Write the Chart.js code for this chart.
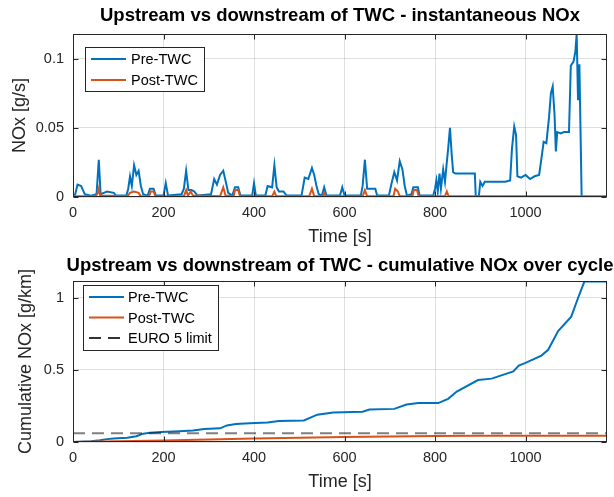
<!DOCTYPE html>
<html>
<head>
<meta charset="utf-8">
<script src="https://cdn.jsdelivr.net/npm/chart.js@4.4.1/dist/chart.umd.min.js"></script>
<style>
  html, body { margin: 0; padding: 0; background: #fff; }
  #wrap { position: relative; width: 614px; height: 497px; overflow: hidden; }
  canvas { position: absolute; left: 0; }
  #instChart { top: 0; }
  #cumChart { top: 247px; }
</style>
</head>
<body>
<div id="wrap">
  <canvas id="instChart" width="614" height="250"></canvas>
  <canvas id="cumChart" width="614" height="250"></canvas>
</div>
<script>
// values
const timeTicks = [0, 200, 400, 600, 800, 1000];
const instTicks = [0, 0.05, 0.1];
const cumTicks = [0, 0.5, 1];
const euro5Limit = 0.06;

// instantaneous NOx [g/s], upstream of the TWC
const preInstTime = [0, 5, 10, 18, 26, 40, 52, 57, 61, 68, 75, 90, 95, 118, 122, 126, 130, 135, 140, 145, 150, 155, 165, 170, 178, 183,
  200, 205, 210, 240, 245, 250, 255, 262, 268, 275, 305, 312, 318, 325, 332, 337, 343, 352, 358, 365, 370, 396, 400, 404,
  425, 430, 440, 445, 450, 455, 465, 472, 505, 512, 520, 528, 533, 538, 543, 550, 555, 560, 590, 595, 600, 636, 640, 645,
  650, 660, 668, 672, 698, 704, 710, 716, 722, 728, 733, 738, 748, 752, 762, 766, 796, 800, 803, 806, 810, 813, 818, 822,
  826, 829, 833, 837, 840, 845, 870, 888, 890, 897, 900, 905, 910, 930, 955, 966, 970, 975, 979, 982, 990, 1000, 1010,
  1020, 1030, 1036, 1040, 1046, 1052, 1056, 1060, 1064, 1067, 1070, 1078, 1085, 1096, 1100, 1106, 1110, 1113, 1116, 1119,
  1124, 1180];
const preInstNOx = [0.001, 0.002, 0.009, 0.008, 0.002, 0.001, 0.002, 0.027, 0.002, 0.003, 0.004, 0.003, 0.001, 0.001, 0.006, 0.015, 0.008, 0.023, 0.016, 0.019, 0.008, 0.002, 0.001, 0.006, 0.006, 0.001,
  0.001, 0.01, 0.001, 0.002, 0.006, 0.019, 0.005, 0.005, 0.004, 0.001, 0.002, 0.013, 0.009, 0.016, 0.019, 0.012, 0.003, 0.001, 0.007, 0.007, 0.001, 0.001, 0.01, 0.001,
  0.001, 0.008, 0.007, 0.023, 0.007, 0.004, 0.004, 0.001, 0.001, 0.014, 0.013, 0.021, 0.016, 0.008, 0.002, 0.001, 0.007, 0.001, 0.001, 0.007, 0.001, 0.001, 0.008, 0.027,
  0.006, 0.006, 0.006, 0.001, 0.001, 0.01, 0.018, 0.012, 0.026, 0.02, 0.008, 0.001, 0.002, 0.007, 0.007, 0.001, 0.001, 0.006, 0.012, 0.004, 0.017, 0.006, 0.02, 0.011,
  0.025, 0.035, 0.05, 0.03, 0.018, 0.017, 0.017, 0.017, 0, 0.001, 0.011, 0.008, 0.011, 0.011, 0.011, 0.012, 0.035, 0.051, 0.045, 0.015, 0.014, 0.016, 0.013,
  0.015, 0.016, 0.03, 0.04, 0.039, 0.058, 0.075, 0.08, 0.06, 0.033, 0.047, 0.046, 0.047, 0.047, 0.095, 0.098, 0.105, 0.118, 0.07, 0.096,
  0, 0];

// instantaneous NOx [g/s], downstream of the TWC
const postInstTime = [0, 50, 55, 57, 60, 120, 126, 135, 145, 150, 168, 172, 178, 182, 245, 250, 254, 260, 265, 325, 332, 337, 355, 358, 365, 369,
  440, 445, 449, 522, 528, 533, 552, 555, 559, 640, 645, 650, 708, 712, 718, 722, 750, 753, 760, 764, 822, 826, 830, 1180];
const postInstNOx = [0.0005, 0.0005, 0.003, 0.006, 0.001, 0.0005, 0.003, 0.004, 0.003, 0.0005, 0.0005, 0.004, 0.004, 0.0005, 0.0005, 0.005, 0.001, 0.004, 0.001, 0.0005, 0.007, 0.001, 0.0005, 0.005, 0.005, 0.0005,
  0.0005, 0.004, 0.0005, 0.0005, 0.006, 0.0005, 0.0005, 0.003, 0.0005, 0.0005, 0.005, 0.0005, 0.0005, 0.006, 0.004, 0.0005, 0.0005, 0.005, 0.005, 0.0005, 0.0005, 0.004, 0.0005, 0.0005];

// cumulative NOx [g/km]
const preCumTime = [0, 40, 60, 75, 90, 120, 140, 155, 170, 195, 235, 265, 290, 325, 340, 360, 390, 430, 455, 510, 540, 575, 640, 655,
  710, 737, 763, 807, 829, 848, 895, 925, 973, 985, 1000, 1035, 1050, 1072, 1101, 1116, 1130, 1180];
const preCumNOx = [0, 0.005, 0.012, 0.02, 0.025, 0.03, 0.04, 0.058, 0.065, 0.07, 0.075, 0.08, 0.09, 0.095, 0.115, 0.125, 0.13, 0.135, 0.145, 0.15, 0.19, 0.205, 0.21, 0.225,
  0.23, 0.26, 0.27, 0.27, 0.3, 0.35, 0.43, 0.44, 0.49, 0.53, 0.55, 0.6, 0.64, 0.77, 0.87, 1.0, 1.114, 1.114];
const postCumTime = [0, 100, 200, 300, 400, 500, 600, 700, 800, 900, 1180];
const postCumNOx = [0, 0.005, 0.01, 0.017, 0.024, 0.03, 0.035, 0.039, 0.042, 0.043, 0.044];

const BLUE = '#0072BD';
const ORANGE = '#D95319';
const AXIS = '#262626';
const FONT = '"Liberation Sans", Arial, Helvetica, sans-serif';

function toPoints(xs, ys) {
    return xs.map((x, i) => ({ x: x, y: ys[i] }));
}

// draws the MATLAB style box, inward ticks, title and legend
const matlabAxes = {
    id: 'matlabAxes',
    afterDraw(chart, args, opts) {
        const { ctx, chartArea: a, scales } = chart;
        const left = Math.round(a.left) + 0.5, top = Math.round(a.top) + 0.5;
        const right = Math.round(a.right) - 0.5, bottom = Math.round(a.bottom) - 0.5;
        ctx.save();
        ctx.strokeStyle = AXIS;
        ctx.lineWidth = 1;
        ctx.beginPath();
        scales.x.ticks.forEach(t => {
            const px = Math.round(scales.x.getPixelForValue(t.value)) + 0.5;
            ctx.moveTo(px, bottom); ctx.lineTo(px, bottom - 5);
            ctx.moveTo(px, top); ctx.lineTo(px, top + 5);
        });
        scales.y.ticks.forEach(t => {
            const py = Math.round(scales.y.getPixelForValue(t.value)) + 0.5;
            ctx.moveTo(left, py); ctx.lineTo(left + 5, py);
            ctx.moveTo(right, py); ctx.lineTo(right - 5, py);
        });
        ctx.stroke();
        ctx.strokeRect(left, top, right - left, bottom - top);

        // title
        ctx.fillStyle = '#000';
        ctx.font = 'bold 18.5px ' + FONT;
        ctx.textAlign = 'center';
        ctx.textBaseline = 'middle';
        ctx.fillText(opts.title, (a.left + a.right) / 2, a.top - opts.titleGap);

        // legend
        const lg = opts.legend;
        const sets = chart.data.datasets;
        ctx.fillStyle = '#fff';
        ctx.fillRect(lg.x, lg.y, lg.w, lg.h);
        ctx.strokeStyle = AXIS;
        ctx.strokeRect(lg.x + 0.5, lg.y + 0.5, lg.w, lg.h);
        ctx.font = '14.5px ' + FONT;
        ctx.textAlign = 'left';
        sets.forEach((ds, i) => {
            const cy = lg.y + lg.first + i * lg.step;
            ctx.save();
            ctx.strokeStyle = ds.legendColor || ds.borderColor;
            ctx.lineWidth = ds.borderWidth;
            ctx.setLineDash(ds.borderDash || []);
            ctx.beginPath();
            ctx.moveTo(lg.x + 6, cy);
            ctx.lineTo(lg.x + 41, cy);
            ctx.stroke();
            ctx.restore();
            ctx.fillStyle = '#000';
            ctx.fillText(ds.label, lg.x + lg.textX, cy + 1);
        });
        ctx.restore();
    }
};

function makeOptions(cfg) {
    return {
        responsive: false,
        animation: false,
        devicePixelRatio: 1,
        layout: { padding: { top: 34, right: 7, left: 0, bottom: 0 } },
        elements: { point: { radius: 0 }, line: { tension: 0 } },
        plugins: {
            legend: { display: false },
            tooltip: { enabled: false },
            matlabAxes: cfg.box
        },
        scales: {
            x: {
                type: 'linear',
                min: 0,
                max: 1180,
                afterBuildTicks: s => { s.ticks = timeTicks.map(v => ({ value: v })); },
                afterFit: s => { s.height = cfg.xHeight; },
                border: { display: false },
                grid: { color: 'rgba(38,38,38,0.15)', drawTicks: false },
                ticks: { color: AXIS, font: { family: FONT, size: 14.5 }, padding: 7, maxRotation: 0,
                    callback: v => String(v) },
                title: { display: true, text: 'Time [s]', color: AXIS,
                    font: { family: FONT, size: 18 }, padding: { top: 0, bottom: cfg.xTitlePad } }
            },
            y: {
                min: 0,
                max: cfg.yMax,
                afterBuildTicks: s => { s.ticks = cfg.yTicks.map(v => ({ value: v })); },
                afterFit: s => { s.width = 73; },
                border: { display: false },
                grid: { color: 'rgba(38,38,38,0.15)', drawTicks: false },
                ticks: { color: AXIS, font: { family: FONT, size: 14.5 }, padding: 9,
                    callback: v => String(v) },
                title: { display: true, text: cfg.yTitle, color: AXIS,
                    font: { family: FONT, size: 18 }, padding: { top: cfg.yTitlePad, bottom: 0 } }
            }
        }
    };
}

// upper plot: instantaneous NOx
new Chart(document.getElementById('instChart'), {
    type: 'line',
    data: {
        datasets: [
            { label: 'Pre-TWC', data: toPoints(preInstTime, preInstNOx), borderColor: BLUE, borderWidth: 2, order: 2 },
            { label: 'Post-TWC', data: toPoints(postInstTime, postInstNOx), borderColor: ORANGE, borderWidth: 2, order: 1 }
        ]
    },
    options: makeOptions({
        yMax: 0.118,
        yTicks: instTicks,
        yTitle: 'NOx [g/s]',
        yTitlePad: 9,
        xHeight: 53,
        xTitlePad: 2,
        box: {
            title: 'Upstream vs downstream of TWC - instantaneous NOx',
            titleGap: 18,
            legend: { x: 85, y: 47, w: 119, h: 44, first: 12, step: 21, textX: 46 }
        }
    }),
    plugins: [matlabAxes]
});

// lower plot: cumulative NOx over the cycle
new Chart(document.getElementById('cumChart'), {
    type: 'line',
    data: {
        datasets: [
            { label: 'Pre-TWC', data: toPoints(preCumTime, preCumNOx), borderColor: BLUE, borderWidth: 2, order: 3 },
            { label: 'Post-TWC', data: toPoints(postCumTime, postCumNOx), borderColor: ORANGE, borderWidth: 2, order: 2 },
            { label: 'EURO 5 limit', data: toPoints([0, 1180], [euro5Limit, euro5Limit]),
              borderColor: 'rgba(0,0,0,0.5)', legendColor: '#333', borderWidth: 2, borderDash: [12, 7], order: 1 }
        ]
    },
    options: makeOptions({
        yMax: 1.118,
        yTicks: cumTicks,
        yTitle: 'Cumulative NOx [g/km]',
        yTitlePad: 15,
        xHeight: 55,
        xTitlePad: 4,
        box: {
            title: 'Upstream vs downstream of TWC - cumulative NOx over cycle',
            titleGap: 15,
            legend: { x: 83, y: 38, w: 135, h: 65, first: 12, step: 20.5, textX: 45 }
        }
    }),
    plugins: [matlabAxes]
});
</script>
</body>
</html>
